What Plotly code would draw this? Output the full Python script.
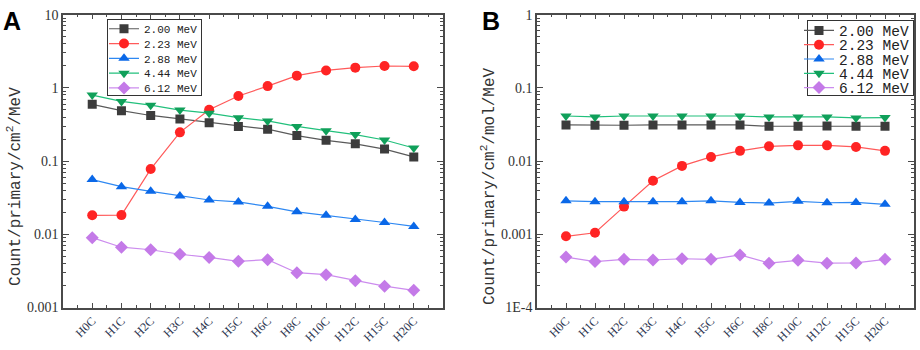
import plotly.graph_objects as go

categories = ["H0C", "H1C", "H2C", "H3C", "H4C", "H5C", "H6C", "H8C", "H10C", "H12C", "H15C", "H20C"]
series_names = ["2.00 MeV", "2.23 MeV", "2.88 MeV", "4.44 MeV", "6.12 MeV"]

# Panel A: Count/primary/cm^2/MeV
a_200 = [0.596, 0.489, 0.42, 0.376, 0.333, 0.298, 0.273, 0.223, 0.192, 0.172, 0.146, 0.114]
a_223 = [0.0182, 0.0183, 0.0778, 0.247, 0.504, 0.774, 1.057, 1.47, 1.73, 1.89, 1.99, 1.97]
a_288 = [0.0559, 0.0448, 0.0386, 0.0335, 0.0294, 0.0277, 0.0241, 0.0203, 0.0182, 0.0160, 0.0145, 0.0128]
a_444 = [0.798, 0.653, 0.58, 0.498, 0.451, 0.392, 0.354, 0.298, 0.26, 0.23, 0.194, 0.151]
a_612 = [0.0090, 0.00667, 0.00615, 0.00534, 0.00483, 0.00428, 0.00451, 0.00299, 0.00281, 0.00232, 0.00196, 0.00172]

# Panel B: Count/primary/cm^2/mol/MeV
b_200 = [0.0312, 0.0309, 0.0309, 0.0312, 0.0312, 0.0312, 0.0312, 0.0299, 0.0299, 0.0302, 0.0299, 0.0299]
b_223 = [0.00094, 0.00105, 0.00239, 0.0054, 0.0086, 0.0114, 0.0138, 0.0159, 0.0164, 0.0164, 0.0156, 0.0138]
b_288 = [0.00287, 0.00279, 0.00279, 0.00279, 0.00279, 0.00287, 0.00273, 0.00267, 0.00282, 0.0027, 0.00273, 0.00257]
b_444 = [0.0413, 0.0401, 0.0413, 0.0413, 0.0413, 0.0413, 0.0413, 0.0401, 0.0401, 0.0401, 0.0389, 0.0393]
b_612 = [0.000489, 0.000424, 0.000455, 0.000446, 0.000464, 0.000455, 0.000524, 0.000404, 0.000442, 0.000404, 0.000407, 0.000455]

a_ticks = [0.001, 0.01, 0.1, 1, 10]
a_ticktext = ["0.001", "0.01", "0.1", "1", "10"]
b_ticks = [0.0001, 0.001, 0.01, 0.1, 1]
b_ticktext = ["1E-4", "0.001", "0.01", "0.1", "1"]

symbols = ["square", "circle", "triangle-up", "triangle-down", "diamond"]
marker_sizes = [9, 10, 10, 10, 10]
marker_colors = ["#3c3c3c", "#ff2424", "#0a68e8", "#10a05a", "#c47ae8"]
line_colors = ["#5a5a5a", "#ff5a5a", "#2e88f2", "#22c07c", "#cc8cee"]

W, H = 920, 350

def px_x(v):
    return v / W

def px_y(v):
    return 1 - v / H

fig = go.Figure()
xidx = list(range(len(categories)))

for i, (name, ya) in enumerate(zip(series_names, [a_200, a_223, a_288, a_444, a_612])):
    fig.add_trace(go.Scatter(
        x=xidx, y=ya, name=name, mode="lines+markers",
        line=dict(color=line_colors[i], width=1.2),
        marker=dict(symbol=symbols[i], size=marker_sizes[i], color=marker_colors[i]),
        xaxis="x", yaxis="y", legend="legend",
    ))
for i, (name, yb) in enumerate(zip(series_names, [b_200, b_223, b_288, b_444, b_612])):
    fig.add_trace(go.Scatter(
        x=xidx, y=yb, name=name, mode="lines+markers",
        line=dict(color=line_colors[i], width=1.2),
        marker=dict(symbol=symbols[i], size=marker_sizes[i], color=marker_colors[i]),
        xaxis="x2", yaxis="y2", legend="legend2",
    ))

axis_color = "#4a4a4a"
tick_font = dict(family="Liberation Serif", size=14, color="#333333")
xtick_font = dict(family="Liberation Serif", size=12, color="#2c3550")

def log_minor(lo, hi):
    vals = []
    for d in range(lo, hi):
        for k in range(2, 10):
            vals.append(k * 10.0 ** d)
    return vals

minor_x = [k + 0.5 for k in range(-1, 12)]

xcommon = dict(
    range=[-1, 12], tickmode="array", tickvals=xidx, ticktext=categories,
    tickangle=-45, ticks="inside", ticklen=5, tickwidth=1, tickcolor=axis_color,
    showline=True, linecolor=axis_color, linewidth=1.5, mirror="ticks",
    showgrid=False, zeroline=False, tickfont=xtick_font,
    minor=dict(tickmode="array", tickvals=minor_x, ticks="inside", ticklen=3, tickcolor=axis_color, showgrid=False),
)

ydom = [px_y(314), px_y(8)]

legend_common = dict(
    bgcolor="white", bordercolor="#333333", borderwidth=1,
    itemwidth=30, tracegroupgap=0, yanchor="top",
)

fig.update_layout(
    width=W, height=H,
    margin=dict(l=0, r=0, t=0, b=0),
    paper_bgcolor="white", plot_bgcolor="white",
    xaxis=dict(domain=[px_x(63), px_x(443)], anchor="y", **xcommon),
    xaxis2=dict(domain=[px_x(537), px_x(914)], anchor="y2", **xcommon),
    yaxis=dict(
        type="log", range=[-3, 1], domain=ydom, anchor="x",
        tickmode="array", tickvals=a_ticks, ticktext=a_ticktext,
        ticks="inside", ticklen=6, tickcolor=axis_color, tickfont=tick_font,
        showline=True, linecolor=axis_color, linewidth=1.5, mirror="ticks",
        showgrid=False, zeroline=False,
        minor=dict(tickmode="array", tickvals=log_minor(-3, 1), ticks="inside", ticklen=3, tickcolor=axis_color, showgrid=False),
    ),
    yaxis2=dict(
        type="log", range=[-4, 0], domain=ydom, anchor="x2",
        tickmode="array", tickvals=b_ticks, ticktext=b_ticktext,
        ticks="inside", ticklen=6, tickcolor=axis_color, tickfont=tick_font,
        showline=True, linecolor=axis_color, linewidth=1.5, mirror="ticks",
        showgrid=False, zeroline=False,
        minor=dict(tickmode="array", tickvals=log_minor(-4, 0), ticks="inside", ticklen=3, tickcolor=axis_color, showgrid=False),
    ),
    legend=dict(x=px_x(107), y=px_y(13), xanchor="left",
                font=dict(family="Liberation Mono", size=11, color="#222222"), **legend_common),
    legend2=dict(x=px_x(914), y=px_y(14), xanchor="right",
                 font=dict(family="Liberation Mono", size=14.5, color="#222222"), **legend_common),
    showlegend=True,
)

title_font = dict(family="Liberation Mono", size=16, color="#333333")
fig.add_annotation(text="Count/primary/cm<sup>2</sup>/MeV", textangle=-90,
                   xref="paper", yref="paper", x=px_x(15), y=px_y(188),
                   xanchor="center", yanchor="middle", showarrow=False, font=title_font)
fig.add_annotation(text="Count/primary/cm<sup>2</sup>/mol/MeV", textangle=-90,
                   xref="paper", yref="paper", x=px_x(489), y=px_y(187),
                   xanchor="center", yanchor="middle", showarrow=False, font=title_font)
fig.add_annotation(text="<b>A</b>", xref="paper", yref="paper", x=px_x(1), y=px_y(15),
                   xanchor="left", yanchor="middle", showarrow=False,
                   font=dict(family="Liberation Sans", size=25, color="black"))
fig.add_annotation(text="<b>B</b>", xref="paper", yref="paper", x=px_x(480), y=px_y(15),
                   xanchor="left", yanchor="middle", showarrow=False,
                   font=dict(family="Liberation Sans", size=25, color="black"))

# Tighten legend rows and boxes (the reference legends use ~15 px rows).
post_js = """
document.body.style.margin = '0px';
try {
  var gd = document.getElementById('{plot_id}');
  var specs = {
    legend:  {step: 14.8, first: 9.3,  height: 76, dx: -4, bgx: 0,  width: 94},
    legend2: {step: 14.3, first: 10.0, height: 75, dx: 1,  bgx: 10, width: null}
  };
  Object.keys(specs).forEach(function(cls) {
    var lg = gd.querySelector('g.' + cls);
    if (!lg) return;
    var sp = specs[cls];
    var items = lg.querySelectorAll('g.traces');
    items.forEach(function(it, i) {
      var t = it.getAttribute('transform') || '';
      var m = /translate\\(\\s*([-\\d.e]+)[,\\s]+([-\\d.e]+)\\s*\\)/.exec(t);
      var x = m ? parseFloat(m[1]) : 0;
      it.setAttribute('transform', 'translate(' + (x + sp.dx) + ',' + (sp.first + i * sp.step) + ')');
    });
    var bg = lg.querySelector('rect.bg');
    if (bg) {
      var w0 = parseFloat(bg.getAttribute('width'));
      var x0 = parseFloat(bg.getAttribute('x') || '0');
      bg.setAttribute('height', sp.height);
      bg.setAttribute('x', x0 + sp.bgx);
      if (sp.width !== null) { bg.setAttribute('width', sp.width); }
      else { bg.setAttribute('width', w0 - sp.bgx); }
    }
  });
} catch (e) {}
"""

fig.write_html("out.html", post_script=post_js, config={"displayModeBar": False})
